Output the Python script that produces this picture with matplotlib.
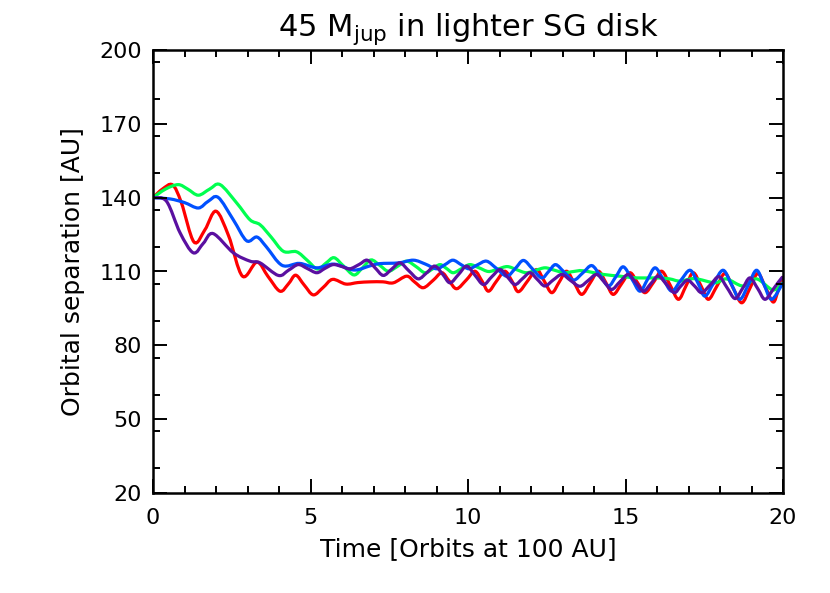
import numpy as np
import matplotlib
matplotlib.use("Agg")
import matplotlib.pyplot as plt
from matplotlib.ticker import MultipleLocator
from matplotlib.path import Path
from matplotlib.patches import PathPatch

# time in orbits at 100 AU, separation in AU
t_red = [0, 0.3, 0.62, 0.9, 1.3, 1.65, 2.0, 2.4, 2.84, 3.3, 3.65, 4.03, 4.3, 4.53, 4.8,
         5.09, 5.4, 5.7, 6.12, 6.5, 6.9, 7.3, 7.63, 8.05, 8.3, 8.58, 8.9, 9.17, 9.4, 9.64,
         9.95, 10.22, 10.45, 10.65, 10.9, 11.17, 11.4, 11.6, 11.9, 12.18, 12.42, 12.66, 12.9,
         13.13, 13.37, 13.61, 13.88, 14.14, 14.38, 14.61, 14.88, 15.14, 15.38, 15.62, 15.9,
         16.15, 16.42, 16.68, 16.92, 17.15, 17.4, 17.63, 17.9, 18.16, 18.42, 18.69, 18.95,
         19.2, 19.45, 19.69, 19.85, 20]
a_red = [140, 143.5, 145.2, 138, 122, 127, 134.5, 124.5, 108.1, 113.8, 108, 102, 105, 108.5,
         104.5, 100.5, 103.5, 106.8, 104.9, 105.5, 105.8, 105.8, 105.4, 108.1, 105.8, 103.4,
         106.5, 109.5, 106.2, 103, 106.6, 110.1, 106, 102, 106, 110.1, 106, 101.8, 106.3,
         110.8, 106.1, 101.4, 105.8, 110.1, 105.4, 100.7, 105.4, 110.1, 105.4, 100.7, 105.1,
         109.5, 105.5, 101.4, 105.8, 110.1, 104.4, 98.7, 104.1, 109.5, 104.1, 98.7, 104,
         109.2, 103.2, 97.3, 103.2, 109.2, 103.4, 97.6, 102.5, 108]

t_green = [0, 0.4, 0.8, 1.1, 1.44, 1.8, 2.13, 2.66, 3.08, 3.4, 3.75, 4.14, 4.56, 4.9, 5.22,
           5.5, 5.75, 6.05, 6.38, 6.65, 6.92, 7.2, 7.47, 7.75, 8.05, 8.35, 8.63, 8.87, 9.11,
           9.32, 9.53, 9.8, 10.06, 10.35, 10.65, 10.95, 11.25, 11.55, 11.85, 12.15, 12.45,
           12.75, 13.05, 13.35, 13.65, 14.3, 14.83, 15.36, 16.0, 16.4, 16.73, 17.2, 17.84,
           18.2, 18.73, 19.16, 19.68, 20]
a_green = [140, 143.5, 145.3, 143.5, 141, 143.5, 145.3, 137.8, 131, 129, 124, 118.2, 118,
           114.5, 111, 113.5, 115.6, 112.2, 108.6, 111.5, 114.7, 112.5, 110.1, 112, 114.2,
           112, 109.5, 111, 112.8, 111.2, 109.5, 111.2, 112.8, 111.5, 110, 111, 112, 110.7,
           109.5, 110.5, 111.5, 110.5, 109.5, 110, 110.3, 108.8, 108.1, 107.4, 107.4, 107,
           106.1, 107.1, 105.4, 107, 104.1, 107, 102.5, 105.5]

t_blue = [0, 0.54, 1.0, 1.44, 1.75, 2.07, 2.55, 2.97, 3.3, 3.6, 4.1, 4.65, 5.2, 5.75, 6.38,
          6.89, 7.2, 7.8, 8.27, 8.65, 9.0, 9.27, 9.52, 9.78, 10.03, 10.3, 10.59, 10.9, 11.23,
          11.5, 11.76, 12.05, 12.34, 12.56, 12.78, 13.05, 13.35, 13.65, 13.93, 14.2, 14.46,
          14.7, 14.93, 15.2, 15.46, 15.7, 15.94, 16.2, 16.47, 16.75, 17.05, 17.3, 17.52, 17.8,
          18.1, 18.37, 18.63, 18.9, 19.16, 19.4, 19.64, 20]
a_blue = [140, 139.5, 138, 135.8, 138.5, 140.1, 131, 122.5, 124, 120, 112.5, 113.3, 111.5,
          113, 110.6, 112.3, 113.2, 113.5, 114.6, 113, 111.1, 112.8, 114.6, 112.8, 111.1,
          112.7, 114.2, 111.3, 108.1, 111.2, 114.5, 111, 107.4, 110, 112.8, 109.8, 106.5,
          109.5, 112.4, 108.3, 104.1, 108, 111.9, 107, 102, 106.8, 111.5, 106.8, 102, 106.3,
          110.5, 105.3, 100, 105.3, 110.5, 104.6, 98.7, 104.6, 110.5, 104.6, 98.7, 105.4]

t_purple = [0, 0.43, 0.86, 1.28, 1.6, 1.91, 2.55, 3.08, 3.4, 3.98, 4.3, 4.61, 4.9, 5.2, 5.45,
            5.72, 6.0, 6.25, 6.55, 6.8, 7.05, 7.31, 7.58, 7.84, 8.13, 8.42, 8.7, 8.95, 9.2,
            9.43, 9.7, 9.96, 10.22, 10.49, 10.75, 11.02, 11.25, 11.49, 11.73, 11.97, 12.2,
            12.44, 12.7, 12.98, 13.25, 13.55, 13.82, 14.08, 14.32, 14.56, 14.82, 15.09, 15.33,
            15.57, 15.8, 16.04, 16.3, 16.55, 16.75, 16.97, 17.2, 17.42, 17.7, 17.97, 18.22,
            18.48, 18.72, 18.95, 19.2, 19.43, 19.7, 19.96, 20]
a_purple = [140, 138.5, 125.7, 117.6, 121.5, 125.4, 117.6, 114.2, 113.5, 108.4, 110.5, 112.8,
            111.2, 109.5, 111.2, 112.8, 112, 111.1, 112.9, 114.6, 111.5, 108.4, 111, 113.5,
            110.2, 107, 109.6, 112.2, 108.8, 105.4, 108.8, 112.2, 108.5, 104.7, 107.8, 110.8,
            107.8, 104.7, 107.1, 109.5, 106.8, 104.1, 106.5, 108.8, 106.4, 104, 106.4, 108.8,
            105.8, 102.7, 105.8, 108.8, 105.4, 102, 105, 108.1, 104.8, 101.4, 104, 106.5, 104,
            101.4, 104.7, 107.9, 103.5, 99, 103.2, 107.4, 103, 98.7, 103, 107.4, 107]

y_ticks = [20, 50, 80, 110, 140, 170, 200]


def smooth_line(ax, t, a, color):
    # stroke the read points as a smooth cubic curve (Catmull-Rom style control points)
    p = np.column_stack([t, a]).astype(float)
    ext = np.vstack([p[0], p, p[-1]])
    verts = [p[0]]
    codes = [Path.MOVETO]
    for i in range(1, len(ext) - 2):
        p0, p1, p2, p3 = ext[i - 1], ext[i], ext[i + 1], ext[i + 2]
        verts += [p1 + (p2 - p0) / 6, p2 - (p3 - p1) / 6, p2]
        codes += [Path.CURVE4] * 3
    ax.add_patch(PathPatch(Path(verts, codes), facecolor='none', edgecolor=color,
                           lw=2.3, transform=ax.transData, clip_on=True))


fig = plt.figure(figsize=(8.3, 5.93), dpi=100)
ax = fig.add_axes([153 / 830, 1 - 493 / 593, 630 / 830, 443 / 593])

smooth_line(ax, t_red, a_red, '#ff0000')
smooth_line(ax, t_green, a_green, '#00ff50')
smooth_line(ax, t_blue, a_blue, '#0050ff')
smooth_line(ax, t_purple, a_purple, '#5a10a0')

ax.set_xlim(0, 20)
ax.set_ylim(20, 200)
ax.set_yticks(y_ticks)
ax.xaxis.set_major_locator(MultipleLocator(5))
ax.xaxis.set_minor_locator(MultipleLocator(1))
ax.yaxis.set_minor_locator(MultipleLocator(15))
ax.tick_params(which='both', direction='in', top=True, right=True, width=1.4, labelsize=16, colors='black')
ax.tick_params(which='major', length=10)
ax.tick_params(which='minor', length=5)
ax.tick_params(axis='x', which='major', pad=11)
ax.tick_params(axis='y', which='major', pad=8)
for s in ax.spines.values():
    s.set_linewidth(1.8)

ax.set_title('45 M$_{\\mathregular{jup}}$ in lighter SG disk', fontsize=22, pad=10)
ax.set_xlabel('Time [Orbits at 100 AU]', fontsize=18, labelpad=6)
ax.set_ylabel('Orbital separation [AU]', fontsize=18, labelpad=10)

fig.savefig('out.png', dpi=100)
